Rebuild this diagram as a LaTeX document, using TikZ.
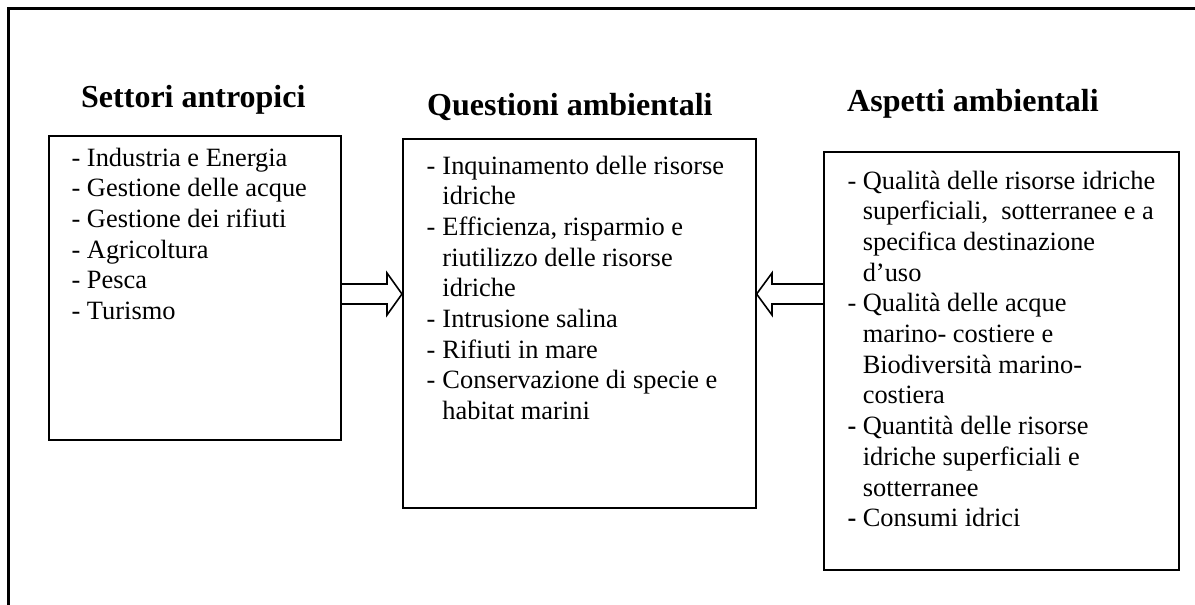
\documentclass[tikz,border=0pt]{standalone}
\usepackage{fontspec}
\setmainfont{Liberation Serif}
\begin{document}
\begin{tikzpicture}[x=1pt,y=-1pt,
  box/.style={draw, line width=1.6pt, inner sep=0pt, anchor=north west},
  frameline/.style={line width=2.6pt},
  title/.style={inner sep=0pt, anchor=base west, font=\fontsize{32}{38}\selectfont\bfseries},
  items/.style={inner sep=0pt, anchor=base west, font=\fontsize{26.4}{30.7}\selectfont},
  fatarrow/.style={draw, line width=1.6pt, line join=miter}]
\useasboundingbox (0,0) rectangle (1195,605);
% outer frame (only top and left edges are visible)
\coordinate (ftl) at (8.7,8.7);
\coordinate (ftr) at (1195,8.7);
\coordinate (fbl) at (8.7,605);
\draw[frameline] (ftr) -- (ftl) -- (fbl);
% boxes
\node[box, minimum width=292pt, minimum height=304pt] (L) at (48,135) {};
\node[box, minimum width=353pt, minimum height=369pt] (M) at (402,138) {};
\node[box, minimum width=355pt, minimum height=418pt] (R) at (823,151) {};
% titles
\node[title] (Lh) at (81,107) {Settori antropici};
\node[title] (Mh) at (427,115) {Questioni ambientali};
\node[title] (Rh) at (847,111) {Aspetti ambientali};
% texts
\node[items] (Lt) at (71.5,166) {\begin{tabular}[t]{@{}l@{\hspace{6.5pt}}l@{}}
- & Industria e Energia\\
- & Gestione delle acque\\
- & Gestione dei rifiuti\\
- & Agricoltura\\
- & Pesca\\
- & Turismo
\end{tabular}};
\node[items] (Mt) at (426.5,174) {\begin{tabular}[t]{@{}l@{\hspace{7pt}}l@{}}
- & Inquinamento delle risorse\\
  & idriche\\
- & Efficienza, risparmio e\\
  & riutilizzo delle risorse\\
  & idriche\\
- & Intrusione salina\\
- & Rifiuti in mare\\
- & Conservazione di specie e\\
  & habitat marini
\end{tabular}};
\node[items] (Rt) at (847.5,189) {\begin{tabular}[t]{@{}l@{\hspace{6.3pt}}l@{}}
- & Qualità delle risorse idriche\\
  & superficiali,~ sotterranee e a\\
  & specifica destinazione\\
  & d’uso\\
- & Qualità delle acque\\
  & marino- costiere e\\
  & Biodiversità marino-\\
  & costiera\\
\textbf{-} & Quantità delle risorse\\
  & idriche superficiali e\\
  & sotterranee\\
\textbf{-} & Consumi idrici
\end{tabular}};
% block arrows
\draw[fatarrow] (L.east |- 0,284) -- (387,284) -- (387,273) -- (M.west |- 0,294)
  -- (387,315) -- (387,304) -- (L.east |- 0,304);
\draw[fatarrow] (R.west |- 0,284) -- (772,284) -- (772,273) -- (M.east |- 0,294)
  -- (772,315) -- (772,304) -- (R.west |- 0,304);
\end{tikzpicture}
\end{document}
